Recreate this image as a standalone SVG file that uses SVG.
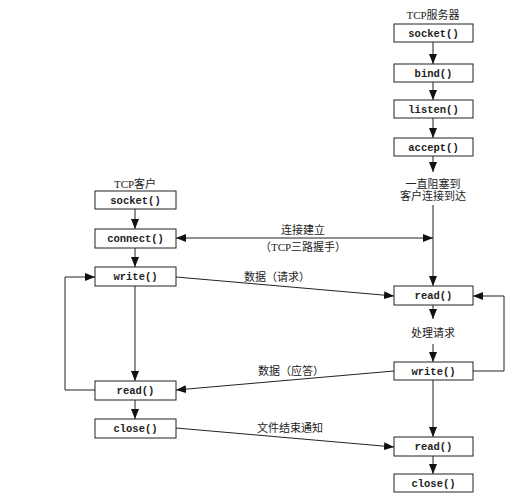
<svg xmlns="http://www.w3.org/2000/svg" width="526" height="500" viewBox="0 0 526 500">
<style>
.box{fill:#fff;stroke:#222;stroke-width:1}
.fn{font-family:"Liberation Mono",monospace;font-size:10.5px;font-weight:bold;fill:#222;text-anchor:middle}
.cj{font-family:"Liberation Serif","Noto Sans CJK SC",serif;font-size:11px;fill:#222;text-anchor:middle}
.ln{fill:none;stroke:#222;stroke-width:1}
</style>
<defs>
<marker id="ah" viewBox="0 0 10 8" refX="10" refY="4" markerWidth="10" markerHeight="8" markerUnits="userSpaceOnUse" orient="auto-start-reverse">
<path d="M0,0L10,4L0,8z" fill="#111"/>
</marker>
</defs>
<rect width="526" height="500" fill="#fff"/>
<text class="cj" x="433" y="19">TCP服务器</text>
<text class="cj" x="135" y="188">TCP客户</text>
<g id="connectors">
<line class="ln" x1="433" y1="42" x2="433" y2="64" marker-end="url(#ah)"/>
<line class="ln" x1="433" y1="82" x2="433" y2="100" marker-end="url(#ah)"/>
<line class="ln" x1="433" y1="118" x2="433" y2="138" marker-end="url(#ah)"/>
<line class="ln" x1="433" y1="156" x2="433" y2="172" marker-end="url(#ah)"/>
<line class="ln" x1="433" y1="205" x2="433" y2="286" marker-end="url(#ah)"/>
<line class="ln" x1="433" y1="305" x2="433" y2="319" marker-end="url(#ah)"/>
<line class="ln" x1="433" y1="344" x2="433" y2="362" marker-end="url(#ah)"/>
<line class="ln" x1="433" y1="380" x2="433" y2="437" marker-end="url(#ah)"/>
<line class="ln" x1="433" y1="456" x2="433" y2="474" marker-end="url(#ah)"/>
<polyline class="ln" points="473,371 504,371 504,296 473,296" marker-end="url(#ah)"/>
<line class="ln" x1="135" y1="209" x2="135" y2="229" marker-end="url(#ah)"/>
<line class="ln" x1="135" y1="248" x2="135" y2="267" marker-end="url(#ah)"/>
<line class="ln" x1="135" y1="286" x2="135" y2="381" marker-end="url(#ah)"/>
<line class="ln" x1="135" y1="400" x2="135" y2="419" marker-end="url(#ah)"/>
<polyline class="ln" points="95,390 65,390 65,277 95,277" marker-end="url(#ah)"/>
<line class="ln" x1="176" y1="238" x2="433" y2="238" marker-start="url(#ah)" marker-end="url(#ah)"/>
<line class="ln" x1="176" y1="277" x2="394" y2="296" marker-end="url(#ah)"/>
<line class="ln" x1="394" y1="371" x2="176" y2="390" marker-end="url(#ah)"/>
<line class="ln" x1="176" y1="428" x2="394" y2="447" marker-end="url(#ah)"/>
</g>
<text class="cj" x="303" y="234">连接建立</text>
<text class="cj" x="303" y="251">（TCP三路握手）</text>
<text class="cj" x="277" y="281">数据（请求）</text>
<text class="cj" x="291" y="375">数据（应答）</text>
<text class="cj" x="290" y="432">文件结束通知</text>
<text class="cj" x="433" y="188">一直阻塞到</text>
<text class="cj" x="433" y="200">客户连接到达</text>
<text class="cj" x="433" y="337">处理请求</text>
<g id="s_socket"><rect class="box" x="394" y="24" width="79" height="18"/><text class="fn" x="433.5" y="37">socket()</text></g>
<g id="s_bind"><rect class="box" x="394" y="64" width="79" height="18"/><text class="fn" x="433.5" y="77">bind()</text></g>
<g id="s_listen"><rect class="box" x="394" y="100" width="79" height="18"/><text class="fn" x="433.5" y="113">listen()</text></g>
<g id="s_accept"><rect class="box" x="394" y="138" width="79" height="18"/><text class="fn" x="433.5" y="151">accept()</text></g>
<g id="s_read1"><rect class="box" x="394" y="286" width="79" height="19"/><text class="fn" x="433.5" y="299">read()</text></g>
<g id="s_write"><rect class="box" x="394" y="362" width="79" height="18"/><text class="fn" x="433.5" y="375">write()</text></g>
<g id="s_read2"><rect class="box" x="394" y="437" width="79" height="19"/><text class="fn" x="433.5" y="450">read()</text></g>
<g id="s_close"><rect class="box" x="394" y="474" width="79" height="18"/><text class="fn" x="433.5" y="487">close()</text></g>
<g id="c_socket"><rect class="box" x="95" y="191" width="81" height="18"/><text class="fn" x="135.5" y="204">socket()</text></g>
<g id="c_connect"><rect class="box" x="95" y="229" width="81" height="19"/><text class="fn" x="135.5" y="242">connect()</text></g>
<g id="c_write"><rect class="box" x="95" y="267" width="81" height="19"/><text class="fn" x="135.5" y="280">write()</text></g>
<g id="c_read"><rect class="box" x="95" y="381" width="81" height="19"/><text class="fn" x="135.5" y="394">read()</text></g>
<g id="c_close"><rect class="box" x="95" y="419" width="81" height="19"/><text class="fn" x="135.5" y="432">close()</text></g>
</svg>
